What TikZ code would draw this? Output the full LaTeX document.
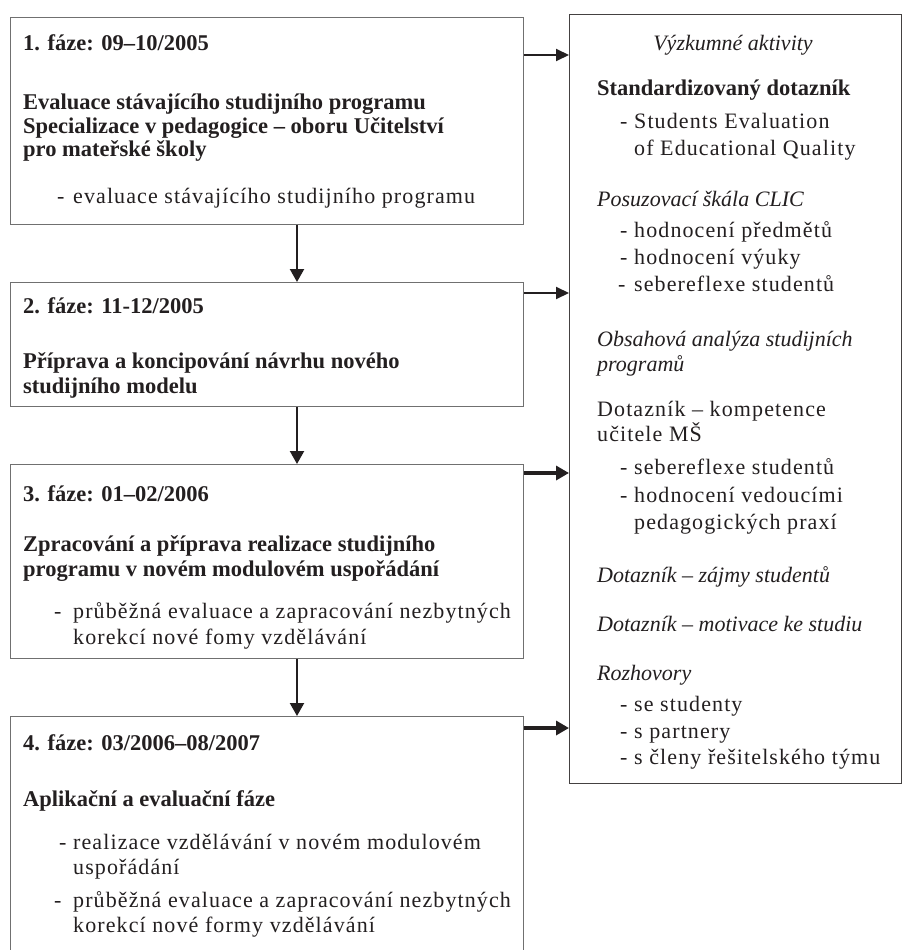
\documentclass[tikz,border=0pt]{standalone}
\usepackage{fontspec}
\setmainfont{Liberation Serif}
\newfontfamily\lsfont[LetterSpace=5]{Liberation Serif}
\usetikzlibrary{arrows.meta}
\definecolor{ink}{HTML}{231F20}
\definecolor{frame}{HTML}{707070}
\newcommand{\dsh}[1]{\makebox[#1][l]{-}}
\begin{document}
\begin{tikzpicture}[x=1pt,y=-1pt,
  bx/.style={draw=frame, line width=1.2pt, rectangle, anchor=north west, inner sep=0pt},
  rbx/.style={draw=ink!85, line width=1.2pt, rectangle, anchor=north west, inner sep=0pt},
  rt/.style={anchor=base west, inner sep=0pt, text=ink, font=\lsfont\fontsize{22}{25}\selectfont},
  bt/.style={anchor=base west, inner sep=0pt, text=ink, font=\bfseries\fontsize{22.5}{25}\selectfont},
  it/.style={anchor=base west, inner sep=0pt, text=ink, font=\itshape\fontsize{22}{25}\selectfont},
  sarrow/.style={draw=ink, line width=2pt, -{Triangle[length=13pt,width=12pt]}},
  tarrow/.style={draw=ink, line width=4pt, -{Triangle[length=13pt,width=14pt]}},
  varrow/.style={draw=ink, line width=2.2pt, -{Triangle[length=13pt,width=14pt]}}]
\useasboundingbox (0,0) rectangle (902,950);
\fill[white] (0,0) rectangle (902,950);

% boxes
\node[bx, minimum width=513pt, minimum height=207pt] (b1) at (10,17) {};
\node[bx, minimum width=513pt, minimum height=124pt] (b2) at (10,282) {};
\node[bx, minimum width=513pt, minimum height=194pt] (b3) at (10,464) {};
\node[bx, minimum width=513pt, minimum height=260pt] (b4) at (10,716) {};
\node[rbx, minimum width=332pt, minimum height=769pt] (rb) at (569,14) {};

% vertical arrows
\draw[varrow] ([xshift=287pt]b1.south west) -- ([xshift=287pt]b2.north west);
\draw[varrow] ([xshift=287pt]b2.south west) -- ([xshift=287pt]b3.north west);
\draw[varrow] ([xshift=287pt]b3.south west) -- ([xshift=287pt]b4.north west);

% side arrows
\coordinate (s1) at ([yshift=-38pt]b1.north east);
\coordinate (s2) at ([yshift=-11pt]b2.north east);
\coordinate (s3) at ([yshift=-9pt]b3.north east);
\coordinate (s4) at ([yshift=-12pt]b4.north east);
\draw[sarrow] (s1) -- (s1 -| rb.west);
\draw[sarrow] (s2) -- (s2 -| rb.west);
\draw[tarrow] (s3) -- (s3 -| rb.west);
\draw[tarrow] (s4) -- (s4 -| rb.west);

% box 1
\node[bt] (t1a) at (23,51) {1. fáze: 09–10/2005};
\node[bt] (t1b) at (23,109) {Evaluace stávajícího studijního programu};
\node[bt] (t1c) at (23,133) {Specializace v pedagogice – oboru Učitelství};
\node[bt] (t1d) at (23,156) {pro mateřské školy};
\node[rt] (t1e) at (57,203) {\dsh{16pt}evaluace stávajícího studijního programu};

% box 2
\node[bt] (t2a) at (23,313) {2. fáze: 11-12/2005};
\node[bt] (t2b) at (23,368) {Příprava a koncipování návrhu nového};
\node[bt] (t2c) at (23,393) {studijního modelu};

% box 3
\node[bt] (t3a) at (23,501) {3. fáze: 01–02/2006};
\node[bt] (t3b) at (23,551) {Zpracování a příprava realizace studijního};
\node[bt] (t3c) at (23,576) {programu v novém modulovém uspořádání};
\node[rt] (t3d) at (54,618) {\dsh{19pt}průběžná evaluace a zapracování nezbytných};
\node[rt] (t3e) at (73,644) {korekcí nové fomy vzdělávání};

% box 4
\node[bt] (t4a) at (23,750) {4. fáze: 03/2006–08/2007};
\node[bt] (t4b) at (23,806) {Aplikační a evaluační fáze};
\node[rt] (t4c) at (59,849) {\dsh{14pt}realizace vzdělávání v novém modulovém};
\node[rt] (t4d) at (73,874) {uspořádání};
\node[rt] (t4e) at (54,907) {\dsh{19pt}průběžná evaluace a zapracování nezbytných};
\node[rt] (t4f) at (73,932) {korekcí nové formy vzdělávání};

% right box
\node[it, anchor=base] (r1) at (733,51) {Výzkumné aktivity};
\node[bt] (r2) at (597,95) {Standardizovaný dotazník};
\node[rt] (r3) at (620,128) {\dsh{14pt}Students Evaluation};
\node[rt] (r4) at (634,155) {of Educational Quality};
\node[it] (r5) at (597,206) {Posuzovací škála CLIC};
\node[rt] (r6) at (620,237) {\dsh{14pt}hodnocení předmětů};
\node[rt] (r7) at (620,264) {\dsh{14pt}hodnocení výuky};
\node[rt] (r8) at (618,291) {\dsh{16pt}sebereflexe studentů};
\node[it] (r9) at (597,346) {Obsahová analýza studijních};
\node[it] (r10) at (597,371) {programů};
\node[rt] (r11) at (597,416) {Dotazník – kompetence};
\node[rt] (r12) at (597,441) {učitele MŠ};
\node[rt] (r13) at (620,474) {\dsh{14pt}sebereflexe studentů};
\node[rt] (r14) at (620,502) {\dsh{14pt}hodnocení vedoucími};
\node[rt] (r15) at (634,529) {pedagogických praxí};
\node[it] (r16) at (597,582) {Dotazník – zájmy studentů};
\node[it] (r17) at (597,631) {Dotazník – motivace ke studiu};
\node[it] (r18) at (597,680) {Rozhovory};
\node[rt] (r19) at (620,711) {\dsh{14pt}se studenty};
\node[rt] (r20) at (620,738) {\dsh{14pt}s partnery};
\node[rt] (r21) at (620,764) {\dsh{14pt}s členy řešitelského týmu};
\end{tikzpicture}
\end{document}
